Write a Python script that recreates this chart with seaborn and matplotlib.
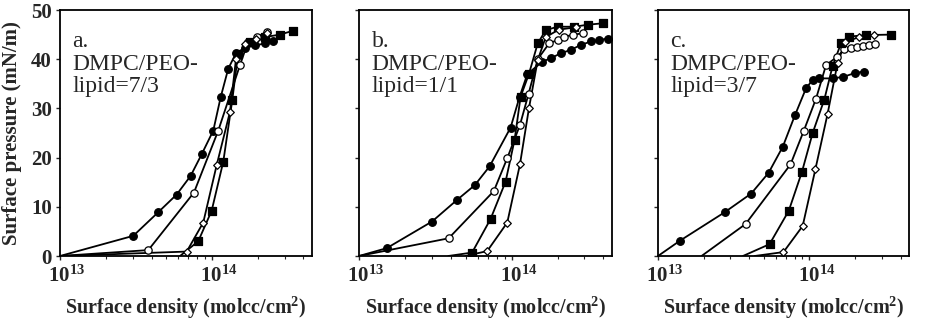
import matplotlib
matplotlib.use("Agg")
import matplotlib.pyplot as plt
import matplotlib.ticker as mticker
import matplotlib.transforms as mtransforms
import seaborn as sns
import pandas as pd

# ---------------- data ----------------
panel_labels = ["a.\nDMPC/PEO-\nlipid=7/3", "b.\nDMPC/PEO-\nlipid=1/1", "c.\nDMPC/PEO-\nlipid=3/7"]

# panel a  (surface density in molec/cm^2, surface pressure in mN/m)
a_fc_x = [1.0e13, 3.035e13, 4.43e13, 5.86e13, 7.24e13, 8.56e13, 1.02e14, 1.141e14, 1.28e14, 1.438e14, 1.648e14, 1.918e14, 2.232e14, 2.52e14]
a_fc_y = [0, 4.1, 8.9, 12.5, 16.3, 20.7, 25.5, 32.3, 38.1, 41.2, 42.3, 42.8, 43.2, 43.6]
a_oc_x = [1.0e13, 3.81e13, 7.61e13, 1.10e14, 1.528e14, 1.725e14, 1.977e14, 2.29e14]
a_oc_y = [0, 1.2, 12.9, 25.5, 38.8, 43.5, 44.5, 45.6]
a_fs_x = [6.16e13, 8.12e13, 9.95e13, 1.187e14, 1.36e14, 1.483e14, 1.778e14, 2.232e14, 2.80e14, 3.427e14]
a_fs_y = [0, 3.0, 9.2, 19.2, 31.7, 41.0, 43.5, 44.5, 45.0, 45.8]
a_od_x = [1.0e13, 6.82e13, 8.76e13, 1.074e14, 1.313e14, 1.438e14, 1.648e14, 1.948e14, 2.29e14]
a_od_y = [0, 0.9, 6.8, 18.5, 29.3, 40.0, 43.0, 44.2, 45.3]

# panel b
b_fc_x = [1.0e13, 1.521e13, 3.008e13, 4.39e13, 5.74e13, 7.17e13, 9.85e13, 1.129e14, 1.269e14, 1.592e14, 1.806e14, 2.10e14, 2.445e14, 2.844e14, 3.31e14, 3.75e14, 4.26e14]
b_fc_y = [0, 1.6, 7.0, 11.4, 14.4, 18.2, 26.1, 32.4, 37.0, 39.5, 40.2, 41.2, 41.9, 42.9, 43.6, 43.9, 44.2]
b_oc_x = [1.0e13, 3.87e13, 7.65e13, 9.37e13, 1.134e14, 1.293e14, 1.483e14, 1.76e14, 2.0e14, 2.208e14, 2.508e14, 2.918e14]
b_oc_y = [0, 3.6, 13.2, 19.9, 26.6, 33.0, 40.0, 43.2, 43.9, 44.6, 44.9, 45.3]
b_fs_x = [3.85e13, 5.51e13, 7.275e13, 9.13e13, 1.046e14, 1.146e14, 1.299e14, 1.483e14, 1.674e14, 2.0e14, 2.57e14, 3.148e14, 3.95e14]
b_fs_y = [0, 0.7, 7.5, 15.1, 23.6, 32.4, 37.0, 43.2, 45.9, 46.6, 46.6, 47.0, 47.3]
b_od_x = [4.98e13, 6.92e13, 9.37e13, 1.134e14, 1.299e14, 1.483e14, 1.674e14, 2.038e14, 2.637e14]
b_od_y = [0, 1.0, 6.8, 18.6, 30.0, 39.8, 44.5, 46.0, 46.5]

# panel c
c_fc_x = [1.0e13, 1.395e13, 2.76e13, 4.13e13, 5.375e13, 6.67e13, 8.05e13, 9.51e13, 1.051e14, 1.163e14, 1.423e14, 1.674e14, 2.0e14, 2.30e14]
c_fc_y = [0, 3.1, 8.9, 12.7, 16.9, 22.2, 28.7, 34.1, 35.8, 36.1, 36.1, 36.4, 37.2, 37.5]
c_oc_x = [1.939e13, 3.79e13, 7.50e13, 9.17e13, 1.107e14, 1.288e14, 1.528e14, 1.70e14, 1.889e14, 2.069e14, 2.266e14, 2.48e14, 2.717e14]
c_oc_y = [0, 6.5, 18.6, 25.4, 32.0, 38.8, 40.5, 42.0, 42.3, 42.5, 42.7, 42.9, 43.0]
c_fs_x = [3.64e13, 5.455e13, 7.31e13, 8.93e13, 1.051e14, 1.255e14, 1.423e14, 1.617e14, 1.833e14, 2.36e14, 3.447e14]
c_fs_y = [0, 2.4, 9.2, 17.1, 25.0, 31.8, 38.6, 43.2, 44.6, 44.9, 45.0]
c_od_x = [4.35e13, 6.745e13, 9.03e13, 1.095e14, 1.319e14, 1.535e14, 1.725e14, 2.133e14, 2.677e14]
c_od_y = [0, 0.8, 6.1, 17.6, 28.9, 39.2, 43.5, 44.5, 45.0]

x_ticks = [1e13, 1e14]
x_tick_labels = [r"$\mathbf{10^{13}}$", r"$\mathbf{10^{14}}$"]
y_ticks = [0, 10, 20, 30, 40, 50]

panels = [
    [(a_fc_x, a_fc_y), (a_oc_x, a_oc_y), (a_fs_x, a_fs_y), (a_od_x, a_od_y)],
    [(b_fc_x, b_fc_y), (b_oc_x, b_oc_y), (b_fs_x, b_fs_y), (b_od_x, b_od_y)],
    [(c_fc_x, c_fc_y), (c_oc_x, c_oc_y), (c_fs_x, c_fs_y), (c_od_x, c_od_y)],
]

# ---------------- style ----------------
sns.set_style("ticks")
plt.rcParams["font.family"] = ["Liberation Serif", "DejaVu Serif"]
plt.rcParams["mathtext.fontset"] = "custom"
plt.rcParams["mathtext.rm"] = "Liberation Serif"
plt.rcParams["mathtext.bf"] = "Liberation Serif:bold"

marker_styles = [
    dict(marker="o", s=30, color="black", edgecolor="black"),
    dict(marker="o", s=28, color="white", edgecolor="black"),
    dict(marker="s", s=26, color="black", edgecolor="black"),
    dict(marker="D", s=15, color="white", edgecolor="black"),
]

W, H = 928, 325
fig = plt.figure(figsize=(W / 100, H / 100), dpi=100)
lefts = [60, 359, 658]
widths = [252, 253, 251]
top, bottom = 10, 256
shift = mtransforms.ScaledTranslation(7 / 100, 0, fig.dpi_scale_trans)

for i, (left, width) in enumerate(zip(lefts, widths)):
    ax = fig.add_axes([left / W, (H - bottom) / H, width / W, (bottom - top) / H])
    for (xs, ys), ms in zip(panels[i], marker_styles):
        df = pd.DataFrame({"x": xs, "y": ys})
        sns.lineplot(data=df, x="x", y="y", sort=False, estimator=None, color="black",
                     linewidth=1.3, ax=ax, zorder=2)
        sns.scatterplot(data=df.iloc[1:], x="x", y="y", ax=ax, linewidth=0.9, zorder=3, **ms)
    ax.set_xscale("log")
    ax.set_xlim(1e13, 4.55e14)
    ax.set_ylim(0, 50)
    ax.xaxis.set_major_locator(mticker.FixedLocator(x_ticks))
    ax.xaxis.set_major_formatter(mticker.FixedFormatter(x_tick_labels))
    ax.xaxis.set_minor_locator(mticker.LogLocator(base=10, subs=[2, 3, 4, 5, 6, 7, 8, 9]))
    ax.xaxis.set_minor_formatter(mticker.NullFormatter())
    ax.set_yticks(y_ticks)
    ax.tick_params(axis="x", which="major", direction="out", length=3, width=1.0,
                   labelsize=15, pad=4)
    ax.tick_params(axis="x", which="minor", direction="out", length=2, width=0.8)
    ax.tick_params(axis="y", direction="out", length=3, width=1.0, labelsize=15, pad=3)
    for lab in ax.get_yticklabels():
        lab.set_fontweight("bold")
    for lab in ax.get_xticklabels():
        lab.set_transform(lab.get_transform() + shift)
    for sp in ax.spines.values():
        sp.set_visible(True)
        sp.set_linewidth(1.3)
        sp.set_color("black")
    if i == 0:
        ax.set_ylabel("Surface pressure (mN/m)", fontsize=15, fontweight="bold", labelpad=6)
    else:
        ax.set_ylabel("")
        ax.set_yticklabels([])
    ax.set_xlabel("Surface density (molcc/cm$^{\\mathbf{2}}$)", fontsize=14.5, fontweight="bold",
                  labelpad=5)
    ax.text(0.05, 0.915, panel_labels[i], transform=ax.transAxes, ha="left", va="top",
            fontsize=17, linespacing=1.1)

fig.savefig("out.png", dpi=100)
